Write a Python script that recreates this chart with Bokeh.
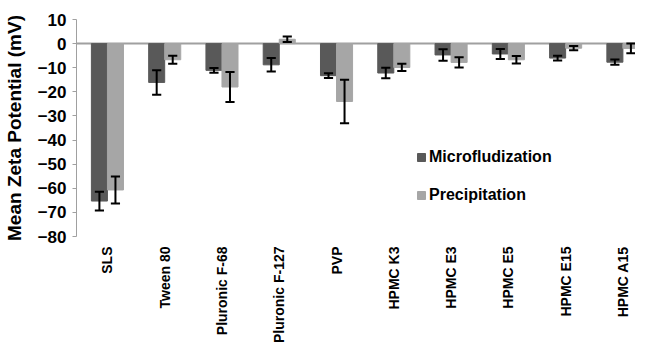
import math
import pandas as pd
from bokeh.plotting import figure
from bokeh.layouts import column
from bokeh.models import (ColumnDataSource, Range1d, Span, Legend, LegendItem, FixedTicker)
from bokeh.core.properties import value
from bokeh.transform import dodge
from bokeh.embed import file_html
from bokeh.resources import INLINE

categories = ["SLS", "Tween 80", "Pluronic F-68", "Pluronic F-127", "PVP",
              "HPMC K3", "HPMC E3", "HPMC E5", "HPMC E15", "HPMC A15"]
micro = [-65.3, -16.1, -11.1, -8.8, -13.3, -12.2, -4.7, -4.3, -6.0, -7.7]
micro_err = [3.9, 5.1, 1.0, 2.8, 1.0, 2.2, 2.4, 2.1, 1.0, 1.1]
precip = [-60.7, -6.7, -18.0, 1.8, -24.0, -9.9, -7.8, -6.7, -1.9, -2.0]
precip_err = [5.6, 1.7, 6.2, 1.1, 9.0, 1.5, 2.1, 1.6, 0.9, 2.0]
y_ticks = [10, 0, -10, -20, -30, -40, -50, -60, -70, -80]

df = pd.DataFrame({"cat": categories, "micro": micro, "micro_err": micro_err,
                   "precip": precip, "precip_err": precip_err})
df["pos"] = [i + 0.5 for i in range(len(categories))]
df["m_lo"] = df["micro"] - df["micro_err"]
df["m_hi"] = df["micro"] + df["micro_err"]
df["p_lo"] = df["precip"] - df["precip_err"]
df["p_hi"] = df["precip"] + df["precip_err"]
src = ColumnDataSource(df)

FONT = "Liberation Sans"
DARK = "#595959"
LIGHT = "#a6a6a6"
W = 635
LEFT = 76
TOP_H = 245
LAB_H = 342 - TOP_H

xr = Range1d(-0.04, 9.72)
p = figure(width=W, height=TOP_H, x_range=xr, y_range=Range1d(-80, 10),
           output_backend="svg", toolbar_location=None,
           min_border_left=LEFT, min_border_top=19, min_border_right=0, min_border_bottom=9)
p.outline_line_color = None
p.xgrid.grid_line_color = None
p.ygrid.grid_line_color = None
p.xaxis.visible = False

zero = Span(location=0, dimension="width", line_color="#a0a0a0", line_width=2, level="underlay")
p.add_layout(zero)

bw = 0.28
off = bw / 2
cap = 0.08
r1 = p.vbar(x=dodge("pos", -off), top="micro", bottom=0, width=bw,
            source=src, fill_color=DARK, line_color=DARK)
r2 = p.vbar(x=dodge("pos", off), top="precip", bottom=0, width=bw,
            source=src, fill_color=LIGHT, line_color=LIGHT)

for o, lo, hi in [(-off, "m_lo", "m_hi"), (off, "p_lo", "p_hi")]:
    p.segment(x0=dodge("pos", o), y0=lo, x1=dodge("pos", o), y1=hi,
              source=src, line_color="black", line_width=2)
    for yv in (lo, hi):
        p.segment(x0=dodge("pos", o - cap), y0=yv, x1=dodge("pos", o + cap), y1=yv,
                  source=src, line_color="black", line_width=2)

yax = p.yaxis[0]
yax.ticker = FixedTicker(ticks=y_ticks)
yax.axis_label = "Mean Zeta Potential (mV)"
yax.axis_label_text_font = FONT
yax.axis_label_text_font_style = "bold"
yax.axis_label_text_font_size = "19px"
yax.axis_label_text_color = "black"
yax.axis_label_standoff = 10
yax.major_label_text_font = FONT
yax.major_label_text_font_style = "bold"
yax.major_label_text_font_size = "17px"
yax.major_label_text_color = "black"
yax.major_label_standoff = 6
yax.axis_line_color = "#a0a0a0"
yax.major_tick_line_color = "#a0a0a0"
yax.major_tick_in = 0
yax.major_tick_out = 4
yax.minor_tick_line_color = None

legend = Legend(items=[LegendItem(label="Microfludization", renderers=[r1]),
                       LegendItem(label="Precipitation", renderers=[r2])],
                location=(340, 32), orientation="vertical",
                glyph_width=10, glyph_height=10, label_standoff=3, spacing=20,
                padding=0, margin=0, border_line_color=None, background_fill_alpha=0,
                label_text_font=FONT, label_text_font_style="bold",
                label_text_font_size="16px", label_text_color="black")
p.add_layout(legend, "center")

# category labels strip (shares the x scale of the chart)
q = figure(width=W, height=LAB_H, x_range=xr, y_range=Range1d(-LAB_H, 0),
           output_backend="svg", toolbar_location=None,
           min_border_left=LEFT, min_border_top=0, min_border_right=0, min_border_bottom=0)
q.outline_line_color = None
q.axis.visible = False
q.grid.grid_line_color = None
q.text(x="pos", y=-1, text="cat", source=src, angle=math.pi / 2,
       text_align="right", text_baseline="middle",
       text_font=value(FONT), text_font_style="bold", text_font_size="14px",
       text_color="black")

layout = column(p, q, spacing=0)
open("out.html", "w").write(file_html(layout, INLINE))
